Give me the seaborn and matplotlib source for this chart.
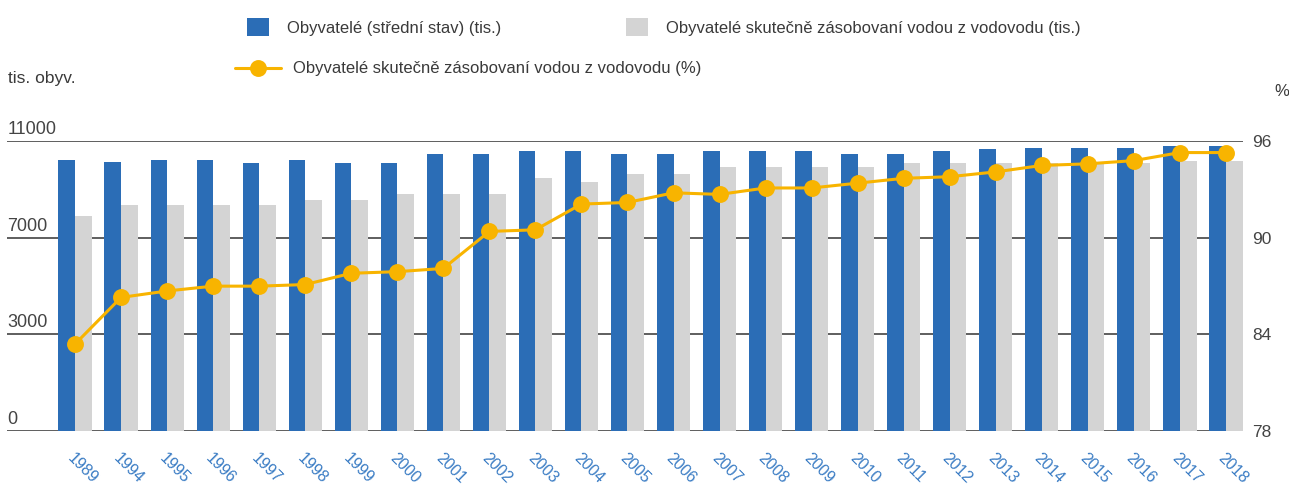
import numpy as np
import pandas as pd
import matplotlib
matplotlib.use('Agg')
import matplotlib.pyplot as plt
from matplotlib.transforms import ScaledTranslation
import seaborn as sns


roky = ['1989', '1994', '1995', '1996', '1997', '1998', '1999', '2000', '2001',
        '2002', '2003', '2004', '2005', '2006', '2007', '2008', '2009', '2010',
        '2011', '2012', '2013', '2014', '2015', '2016', '2017', '2018']

obyvatele = [10290, 10200, 10290, 10290, 10180, 10290, 10180, 10180, 10510,
             10510, 10630, 10630, 10510, 10510, 10630, 10640, 10640, 10510,
             10510, 10630, 10700, 10750, 10750, 10750, 10830, 10830]

zasobovani = [8160, 8570, 8570, 8570, 8570, 8770, 8770, 8990, 8990,
              8990, 9600, 9440, 9760, 9760, 10010, 10010, 10010, 10010,
              10190, 10190, 10190, 10190, 10150, 10190, 10260, 10260]

podil = [83.4, 86.3, 86.7, 87.0, 87.0, 87.1, 87.8, 87.9, 88.1,
         90.4, 90.5, 92.1, 92.2, 92.8, 92.7, 93.1, 93.1, 93.4,
         93.7, 93.8, 94.1, 94.5, 94.6, 94.8, 95.3, 95.3]

lbl_obyv = 'Obyvatelé (střední stav) (tis.)'
lbl_zas = 'Obyvatelé skutečně zásobovaní vodou z vodovodu (tis.)'
lbl_pct = 'Obyvatelé skutečně zásobovaní vodou z vodovodu (%)'

left_ticks = ['0', '3000', '7000', '11000']
right_ticks = [78, 84, 90, 96]

BLUE = '#2B6DB6'
GREY = '#D4D4D4'
YELLOW = '#F8B400'
TXT = '#3a3a3a'

sns.set_style('white')
plt.rcParams['font.family'] = ['Liberation Sans', 'DejaVu Sans']

df = pd.DataFrame({
    'rok': roky * 2,
    'hodnota': obyvatele + zasobovani,
    'serie': [lbl_obyv] * len(roky) + [lbl_zas] * len(roky),
})

fig = plt.figure(figsize=(12.89, 4.84), dpi=100)
ax = fig.add_axes([7 / 1289, 1 - 431 / 484, 1236 / 1289, 289.7 / 484])

sns.barplot(data=df, x='rok', y='hodnota', hue='serie', palette=[BLUE, GREY],
            width=0.72, gap=0, saturation=1, linewidth=0, ax=ax)
handles, labels = ax.get_legend_handles_labels()
ax.get_legend().remove()

ax2 = ax.twinx()
sns.pointplot(x=roky, y=podil, color=YELLOW, markers='o', markersize=10.5,
              linewidth=2.2, errorbar=None, ax=ax2)
for ln in ax2.lines:
    ln.set_clip_on(False)
    ln.set_zorder(5)

# axes limits / ticks
ax.set_xlim(-1.477, 25.37)
ax.set_ylim(0, 11000)
ax.set_yticks(np.linspace(0, 11000, 4), left_ticks)
ax2.set_ylim(78, 96)
ax2.set_yticks(right_ticks)

for a in (ax, ax2):
    a.set_xlabel('')
    a.set_ylabel('')
    for s in a.spines.values():
        s.set_visible(False)

ax.set_axisbelow(True)
ax.yaxis.grid(True, color='#333333', linewidth=1.1)
ax.xaxis.grid(False)
ax2.grid(False)

ax.tick_params(axis='y', length=0, pad=0, labelsize=13, labelcolor='#444444')
offset = ScaledTranslation(0.5 / 100, 7 / 100, fig.dpi_scale_trans)
for t in ax.get_yticklabels():
    t.set_horizontalalignment('left')
    t.set_verticalalignment('baseline')
    t.set_transform(t.get_transform() + offset)

ax2.tick_params(axis='y', length=0, pad=6.5, labelsize=12.5, labelcolor='#444444')

ax.set_xticks(range(len(roky)), roky)
ax.tick_params(axis='x', length=0, pad=14, labelsize=11.5, labelcolor='#3A7CC4')
plt.setp(ax.get_xticklabels(), rotation=-45, ha='left', va='top',
         rotation_mode='anchor')

# legends
fs = 12
em = fs * 100 / 72
fig.legend(handles, labels, loc='center left',
           bbox_to_anchor=(247 / 1289, 1 - 27 / 484), ncol=2, frameon=False,
           fontsize=fs, labelcolor=TXT, handlelength=22 / em, handleheight=22 / em,
           handletextpad=18 / em, columnspacing=125 / em,
           borderpad=0, borderaxespad=0)

fig.legend([ax2.lines[0]], [lbl_pct], loc='center left',
           bbox_to_anchor=(235 / 1289, 1 - 69 / 484), frameon=False,
           fontsize=fs, labelcolor=TXT, handlelength=46 / em,
           handletextpad=12 / em, borderpad=0, borderaxespad=0)

fig.text(8 / 1289, 1 - 78 / 484, 'tis. obyv.', fontsize=12.5, color=TXT, va='center')
fig.text(1274 / 1289, 1 - 91 / 484, '%', fontsize=12, color=TXT, va='center')

fig.savefig('out.png', dpi=100)
